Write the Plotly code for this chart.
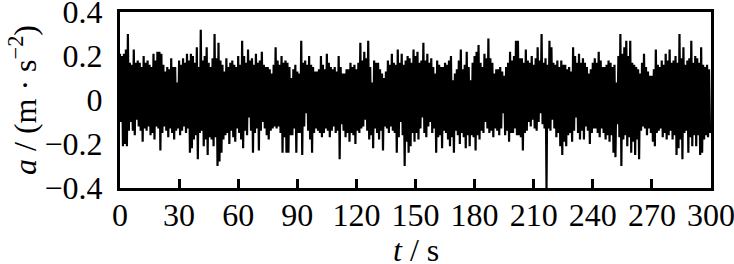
import plotly.graph_objects as go

# Time of each 1-s bin (s)
t_s = list(range(300))

# Upper envelope per 1-s bin (m/s^2)
upper = [
    0.21, 0.20, 0.21, 0.23, 0.30, 0.17, 0.16, 0.23, 0.17, 0.18,
    0.17, 0.15, 0.20, 0.17, 0.18, 0.16, 0.15, 0.21, 0.18, 0.22,
    0.22, 0.21, 0.16, 0.13, 0.15, 0.14, 0.19, 0.15, 0.15, 0.08,
    0.18, 0.16, 0.19, 0.17, 0.21, 0.18, 0.21, 0.20, 0.17, 0.24,
    0.15, 0.32, 0.18, 0.20, 0.24, 0.17, 0.15, 0.19, 0.30, 0.19,
    0.26, 0.18, 0.16, 0.13, 0.19, 0.15, 0.17, 0.18, 0.16, 0.15,
    0.20, 0.16, 0.27, 0.20, 0.17, 0.23, 0.18, 0.19, 0.16, 0.21,
    0.17, 0.18, 0.22, 0.16, 0.15, 0.15, 0.14, 0.12, 0.16, 0.24,
    0.18, 0.16, 0.20, 0.17, 0.18, 0.17, 0.15, 0.10, 0.14, 0.16,
    0.13, 0.12, 0.27, 0.17, 0.18, 0.16, 0.20, 0.16, 0.15, 0.13,
    0.13, 0.14, 0.20, 0.16, 0.14, 0.21, 0.17, 0.15, 0.14, 0.15,
    0.13, 0.20, 0.15, 0.12, 0.12, 0.14, 0.14, 0.17, 0.15, 0.16,
    0.14, 0.17, 0.26, 0.18, 0.22, 0.19, 0.27, 0.15, 0.08, 0.18,
    0.17, 0.17, 0.14, 0.12, 0.10, 0.13, 0.18, 0.16, 0.21, 0.17,
    0.16, 0.23, 0.17, 0.21, 0.16, 0.18, 0.20, 0.19, 0.17, 0.23,
    0.20, 0.22, 0.17, 0.18, 0.26, 0.18, 0.21, 0.17, 0.19, 0.15,
    0.12, 0.18, 0.16, 0.15, 0.15, 0.17, 0.16, 0.18, 0.20, 0.09,
    0.12, 0.14, 0.18, 0.23, 0.14, 0.16, 0.22, 0.15, 0.09, 0.17,
    0.20, 0.22, 0.25, 0.17, 0.15, 0.21, 0.19, 0.28, 0.19, 0.17,
    0.12, 0.14, 0.14, 0.15, 0.13, 0.11, 0.15, 0.17, 0.22, 0.18,
    0.20, 0.27, 0.27, 0.19, 0.19, 0.17, 0.23, 0.18, 0.17, 0.20,
    0.16, 0.19, 0.24, 0.18, 0.30, 0.17, 0.19, 0.16, 0.27, 0.24,
    0.17, 0.16, 0.18, 0.15, 0.18, 0.16, 0.16, 0.14, 0.15, 0.13,
    0.24, 0.20, 0.17, 0.21, 0.17, 0.19, 0.17, 0.15, 0.12, 0.14,
    0.17, 0.19, 0.17, 0.22, 0.18, 0.15, 0.15, 0.16, 0.18, 0.17,
    0.15, 0.16, 0.08, 0.20, 0.30, 0.21, 0.24, 0.27, 0.20, 0.27,
    0.17, 0.16, 0.15, 0.14, 0.12, 0.17, 0.21, 0.15, 0.13, 0.11,
    0.11, 0.14, 0.23, 0.16, 0.15, 0.18, 0.16, 0.21, 0.18, 0.23,
    0.17, 0.18, 0.20, 0.17, 0.30, 0.19, 0.24, 0.16, 0.18, 0.19,
    0.27, 0.17, 0.20, 0.19, 0.17, 0.24, 0.16, 0.15, 0.16, 0.14,
]

# Lower envelope per 1-s bin (m/s^2)
lower = [
    -0.10, -0.21, -0.20, -0.21, -0.14, -0.10, -0.14, -0.16, -0.09, -0.12,
    -0.14, -0.19, -0.13, -0.14, -0.12, -0.16, -0.15, -0.18, -0.12, -0.13,
    -0.23, -0.15, -0.12, -0.14, -0.17, -0.13, -0.15, -0.18, -0.14, -0.13,
    -0.16, -0.14, -0.12, -0.15, -0.13, -0.24, -0.22, -0.18, -0.16, -0.27,
    -0.15, -0.14, -0.21, -0.18, -0.25, -0.17, -0.18, -0.21, -0.17, -0.30,
    -0.28, -0.24, -0.18, -0.16, -0.15, -0.20, -0.14, -0.17, -0.19, -0.13,
    -0.15, -0.18, -0.22, -0.14, -0.16, -0.08, -0.14, -0.24, -0.15, -0.13,
    -0.23, -0.14, -0.10, -0.13, -0.16, -0.18, -0.14, -0.13, -0.12, -0.13,
    -0.12, -0.15, -0.24, -0.17, -0.24, -0.24, -0.16, -0.16, -0.13, -0.24,
    -0.15, -0.15, -0.25, -0.12, -0.06, -0.14, -0.18, -0.24, -0.15, -0.13,
    -0.14, -0.15, -0.17, -0.15, -0.13, -0.14, -0.17, -0.14, -0.12, -0.15,
    -0.14, -0.27, -0.11, -0.14, -0.17, -0.15, -0.19, -0.15, -0.16, -0.20,
    -0.14, -0.15, -0.13, -0.12, -0.09, -0.14, -0.18, -0.16, -0.22, -0.13,
    -0.15, -0.18, -0.14, -0.23, -0.12, -0.13, -0.15, -0.12, -0.14, -0.15,
    -0.24, -0.17, -0.10, -0.16, -0.30, -0.19, -0.24, -0.21, -0.15, -0.19,
    -0.15, -0.18, -0.13, -0.08, -0.15, -0.17, -0.12, -0.10, -0.15, -0.13,
    -0.24, -0.17, -0.16, -0.22, -0.14, -0.15, -0.18, -0.21, -0.17, -0.24,
    -0.14, -0.16, -0.20, -0.15, -0.17, -0.22, -0.16, -0.21, -0.16, -0.17,
    -0.23, -0.16, -0.18, -0.14, -0.15, -0.10, -0.13, -0.15, -0.14, -0.17,
    -0.13, -0.14, -0.16, -0.13, -0.06, -0.16, -0.14, -0.19, -0.15, -0.15,
    -0.13, -0.16, -0.16, -0.17, -0.23, -0.15, -0.14, -0.10, -0.12, -0.09,
    -0.13, -0.14, -0.10, -0.06, -0.11, -0.13, -0.40, -0.13, -0.14, -0.09,
    -0.13, -0.17, -0.15, -0.21, -0.25, -0.19, -0.21, -0.16, -0.15, -0.19,
    -0.14, -0.08, -0.15, -0.18, -0.14, -0.18, -0.12, -0.14, -0.20, -0.15,
    -0.13, -0.13, -0.15, -0.17, -0.13, -0.15, -0.18, -0.16, -0.19, -0.16,
    -0.24, -0.26, -0.11, -0.17, -0.30, -0.18, -0.16, -0.21, -0.17, -0.24,
    -0.19, -0.25, -0.18, -0.27, -0.14, -0.12, -0.13, -0.16, -0.13, -0.15,
    -0.19, -0.21, -0.15, -0.14, -0.13, -0.17, -0.15, -0.18, -0.16, -0.14,
    -0.18, -0.16, -0.25, -0.22, -0.18, -0.27, -0.15, -0.14, -0.24, -0.17,
    -0.21, -0.16, -0.21, -0.16, -0.25, -0.24, -0.18, -0.16, -0.17, -0.15,
]

x_ticks = [0, 30, 60, 90, 120, 150, 180, 210, 240, 270, 300]
y_ticks = [-0.4, -0.2, 0, 0.2, 0.4]
y_tick_text = ["\u22120.4", "\u22120.2", "0", "0.2", "0.4"]

# Interleave upper and lower readings to form the dense signal trace
xs, ys = [], []
for t, hi, lo in zip(t_s, upper, lower):
    xs += [t, t + 0.5]
    ys += [hi, lo]

FONT = "Liberation Serif"
FS = 32

fig = go.Figure()
fig.add_trace(go.Scatter(
    x=xs, y=ys, mode="lines",
    line=dict(color="black", width=2.2, simplify=False),
    hoverinfo="skip", showlegend=False,
))

fig.update_layout(
    width=734, height=264,
    margin=dict(l=120, r=23, t=12, b=76, autoexpand=False),
    paper_bgcolor="white", plot_bgcolor="white",
    showlegend=False,
    xaxis=dict(
        range=[0, 300], tickmode="array", tickvals=x_ticks,
        ticks="inside", ticklen=9, tickwidth=3, tickcolor="black",
        showline=True, linewidth=3, linecolor="black", mirror=True,
        showgrid=False, zeroline=False,
        ticklabeloverflow="allow", ticklabelstandoff=-3,
        tickfont=dict(family=FONT, size=FS, color="black"),
    ),
    yaxis=dict(
        range=[-0.4005, 0.4005], tickmode="array", tickvals=y_ticks,
        ticktext=y_tick_text,
        ticks="outside", ticklen=8, tickcolor="rgba(0,0,0,0)",
        showline=True, linewidth=3, linecolor="black", mirror=True,
        showgrid=False, zeroline=False,
        ticklabeloverflow="allow",
        tickfont=dict(family=FONT, size=FS, color="black"),
    ),
    annotations=[
        dict(text="<i>t</i> / s", xref="paper", yref="paper", x=0.5, y=0,
             xanchor="center", yanchor="bottom", yshift=-82, showarrow=False,
             font=dict(family=FONT, size=FS, color="black")),
        dict(text="<i>a</i> / (m \u00b7 s<sup>\u22122</sup>)", xref="paper", yref="paper",
             x=0, y=0.5, xanchor="center", yanchor="middle", xshift=-97,
             textangle=-90, showarrow=False,
             font=dict(family=FONT, size=FS, color="black")),
    ],
)

fig.write_html("out.html")
